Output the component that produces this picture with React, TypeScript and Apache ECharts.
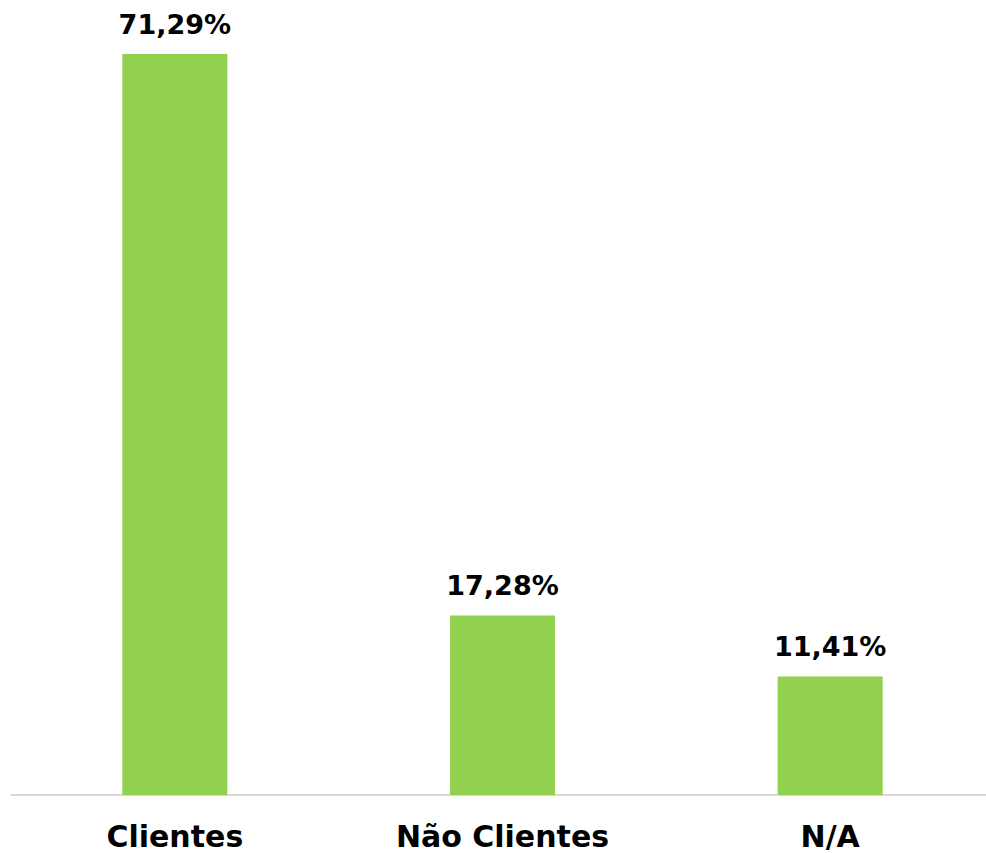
import React, { useEffect, useRef } from "react";
import * as echarts from "echarts";

const categories = ["Clientes", "Não Clientes", "N/A"];
const values = [71.29, 17.28, 11.41];

export default function App() {
  const ref = useRef<HTMLDivElement>(null);
  useEffect(() => {
    if (!ref.current) return;
    const chart = echarts.init(ref.current, null, { renderer: "svg" });
    chart.setOption({
      animation: false,
      grid: { left: 11, right: 0, top: 54, bottom: 58, containLabel: false },
      xAxis: {
        type: "category",
        data: categories,
        axisLine: { lineStyle: { color: "#d9d9d9", width: 2 } },
        axisTick: { show: false },
        axisLabel: {
          color: "#000",
          fontFamily: "DejaVu Sans",
          fontWeight: "bold",
          fontSize: 30,
          margin: 26,
        },
      },
      yAxis: {
        type: "value",
        min: 0,
        max: 71.29,
        show: false,
        splitLine: { show: false },
      },
      series: [
        {
          type: "bar",
          data: values,
          barWidth: 105,
          itemStyle: { color: "#92D050" },
          label: {
            show: true,
            position: "top",
            distance: 16,
            color: "#000",
            fontFamily: "DejaVu Sans",
            fontWeight: "bold",
            fontSize: 27,
            formatter: (p: any) => p.value.toFixed(2).replace(".", ",") + "%",
          },
        },
      ],
    });
    return () => chart.dispose();
  }, []);
  return (
    <div
      style={{
        position: "absolute",
        left: 0,
        top: 0,
        width: 986,
        height: 853,
        overflow: "hidden",
      }}
    >
      <div ref={ref} style={{ width: 994, height: 853 }} />
    </div>
  );
}
